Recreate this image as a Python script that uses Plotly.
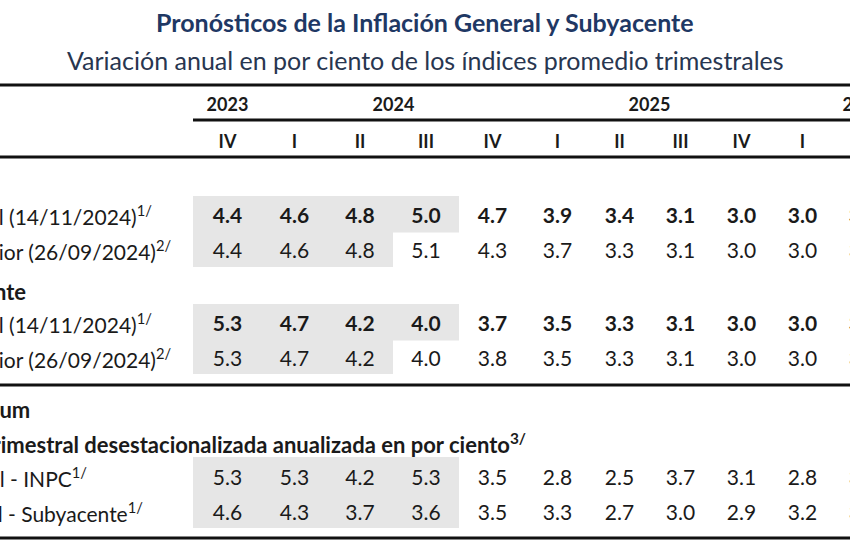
import plotly.graph_objects as go

# ---------------- data ----------------
title = "Pronósticos de la Inflación General y Subyacente"
subtitle = "Variación anual en por ciento de los índices promedio trimestrales"

years = ["2023", "2024", "2025", "2026"]
year_first_col = [0, 1, 5, 9]
year_last_col = [0, 4, 8, 11]
quarters = ["IV", "I", "II", "III", "IV", "I", "II", "III", "IV", "I", "II", "III"]

gen_actual = [4.4, 4.6, 4.8, 5.0, 4.7, 3.9, 3.4, 3.1, 3.0, 3.0, 3.0]
gen_anterior = [4.4, 4.6, 4.8, 5.1, 4.3, 3.7, 3.3, 3.1, 3.0, 3.0, 3.0]
sub_actual = [5.3, 4.7, 4.2, 4.0, 3.7, 3.5, 3.3, 3.1, 3.0, 3.0, 3.0]
sub_anterior = [5.3, 4.7, 4.2, 4.0, 3.8, 3.5, 3.3, 3.1, 3.0, 3.0, 3.0]
qsa_inpc = [5.3, 5.3, 4.2, 5.3, 3.5, 2.8, 2.5, 3.7, 3.1, 2.8, 3.0]
qsa_sub = [4.6, 4.3, 3.7, 3.6, 3.5, 3.3, 2.7, 3.0, 2.9, 3.2, 3.0]

row_labels = [
    "Informe actual (14/11/2024)<sup>1/</sup>",
    "Informe anterior (26/09/2024)<sup>2/</sup>",
    "Informe actual (14/11/2024)<sup>1/</sup>",
    "Informe anterior (26/09/2024)<sup>2/</sup>",
    "Informe actual - INPC<sup>1/</sup>",
    "Informe actual - Subyacente<sup>1/</sup>",
]
row_values = [gen_actual, gen_anterior, sub_actual, sub_anterior, qsa_inpc, qsa_sub]
row_bold = [True, False, True, False, False, False]
observed_quarters = [4, 3, 4, 3, 4, 4]

section_labels = [
    "Inflación General",
    "Inflación Subyacente",
    "Memorándum",
    "Variación trimestral desestacionalizada anualizada en por ciento<sup>3/</sup>",
]

# ---------------- layout geometry ----------------
W, H = 850, 550
FONT = "Lato"
TXT = "#1a1a1a"
SHADE = "#e6e6e6"
TEXT_DY = 3  # scatter text sits a little high when centred; nudge down
table_left = 193
col_widths = [69, 65, 66, 66, 67, 63, 61, 61, 61, 61, 61, 61]
col_edges = [table_left]
for w in col_widths:
    col_edges.append(col_edges[-1] + w)
col_centers = [(col_edges[i] + col_edges[i + 1]) / 2 for i in range(len(col_widths))]

row_y = [215, 250, 323, 358, 477, 512]
row_shade = [(196, 267), (196, 267), (304, 374), (304, 374), (457, 528), (457, 528)]
label_right = [154, 173, 154, 173, 89, 145]
section_y = [183, 291, 409, 443]
section_right = [-4, 28, 32, 528]
year_y, quarter_y = 103, 140

fig = go.Figure()

# shading of observed (non-forecast) quarters: one block per row pair
shapes = []
for i in range(0, len(observed_quarters), 2):
    n_top, n_bot = observed_quarters[i], observed_quarters[i + 1]
    y_top, y_bot = row_shade[i][0], row_shade[i + 1][1]
    y_mid = (row_y[i] + row_y[i + 1]) / 2
    if n_top == n_bot:
        shapes.append(dict(type="rect", xref="x", yref="y", x0=col_edges[0], x1=col_edges[n_top],
                           y0=y_top, y1=y_bot, fillcolor=SHADE, line=dict(width=0), layer="below"))
    else:
        shapes.append(dict(type="rect", xref="x", yref="y", x0=col_edges[0], x1=col_edges[n_top],
                           y0=y_top, y1=y_mid, fillcolor=SHADE, line=dict(width=0), layer="below"))
        shapes.append(dict(type="rect", xref="x", yref="y", x0=col_edges[0], x1=col_edges[n_bot],
                           y0=y_mid - 1, y1=y_bot, fillcolor=SHADE, line=dict(width=0), layer="below"))

# rules
def hline(y, x0, x1, w=3):
    shapes.append(dict(type="line", xref="x", yref="y", x0=x0, x1=x1, y0=y, y1=y,
                       line=dict(color="#111111", width=w)))

hline(85, -10, W + 10, 3)
hline(120, table_left, W + 10, 3)
hline(157, -10, W + 10, 3)
hline(385, -10, W + 10, 3)
hline(538, -10, W + 10, 3)

# header texts
fig.add_trace(go.Scatter(
    x=[(col_centers[a] + col_centers[b]) / 2 for a, b in zip(year_first_col, year_last_col)],
    y=[year_y + TEXT_DY] * len(years), text=years, mode="text",
    textfont=dict(family=FONT, size=18, color=TXT, weight="bold"),
    hoverinfo="skip", showlegend=False))
fig.add_trace(go.Scatter(
    x=col_centers[:len(quarters)], y=[quarter_y + TEXT_DY] * len(quarters), text=quarters, mode="text",
    textfont=dict(family=FONT, size=18, color=TXT, weight="bold"),
    hoverinfo="skip", showlegend=False))

# values
for vals, y, bold in zip(row_values, row_y, row_bold):
    fig.add_trace(go.Scatter(
        x=col_centers[:len(vals)], y=[y + TEXT_DY] * len(vals),
        text=[f"{v:.1f}" for v in vals], mode="text",
        textfont=dict(family=FONT, size=21, color=TXT, weight="bold" if bold else "normal"),
        hoverinfo="skip", showlegend=False))

annotations = []
for lab, y, xr in zip(row_labels, row_y, label_right):
    annotations.append(dict(x=xr, y=y, xref="x", yref="y", text=lab, showarrow=False,
                            xanchor="right", yanchor="middle",
                            font=dict(family=FONT, size=21, color=TXT)))
for lab, y, xr in zip(section_labels, section_y, section_right):
    annotations.append(dict(x=xr, y=y, xref="x", yref="y", text="<b>" + lab + "</b>", showarrow=False,
                            xanchor="right", yanchor="middle",
                            font=dict(family=FONT, size=22, color=TXT)))

annotations.append(dict(x=0.5, y=22, xref="paper", yref="y", text="<b>" + title + "</b>",
                        showarrow=False, xanchor="center", yanchor="middle",
                        font=dict(family=FONT, size=25, color="#1f3864")))
annotations.append(dict(x=0.5, y=60, xref="paper", yref="y", text=subtitle,
                        showarrow=False, xanchor="center", yanchor="middle",
                        font=dict(family=FONT, size=25, color="#283650")))

fig.update_layout(
    width=W, height=H, margin=dict(l=0, r=0, t=0, b=0),
    paper_bgcolor="white", plot_bgcolor="white",
    xaxis=dict(range=[0, W], visible=False, fixedrange=True),
    yaxis=dict(range=[H, 0], visible=False, fixedrange=True),
    shapes=shapes, annotations=annotations, showlegend=False,
)

fig.write_html("out.html", config={"displayModeBar": False},
               post_script="document.body.style.margin='0';document.body.style.overflow='hidden';")
